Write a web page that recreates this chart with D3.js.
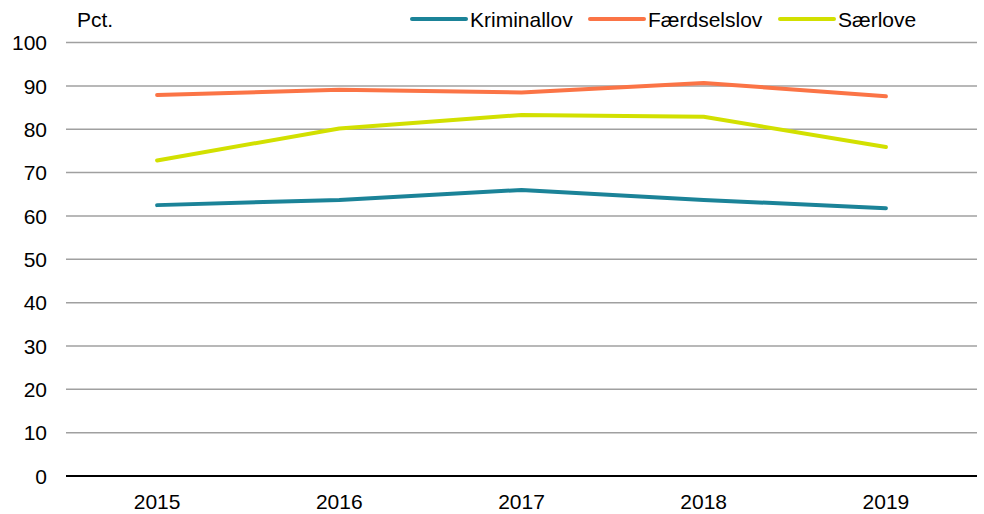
<!DOCTYPE html>
<html>
<head>
<meta charset="utf-8">
<script src="https://cdn.jsdelivr.net/npm/d3@7"></script>
<style>
    body { margin: 0; background: #fff; }
    text { font-family: "Liberation Sans", Arial, sans-serif; fill: #000; font-size: 21px; }
</style>
</head>
<body>
<svg id="chart" width="984" height="514"></svg>
<script>
const years = ["2015", "2016", "2017", "2018", "2019"];
const kriminallov = [62.5, 63.7, 66.0, 63.7, 61.8];
const faerdselslov = [87.9, 89.1, 88.5, 90.7, 87.6];
const saerlove = [72.8, 80.2, 83.3, 82.9, 75.9];
const yTicks = [0, 10, 20, 30, 40, 50, 60, 70, 80, 90, 100];

const series = [
    { name: "Kriminallov", values: kriminallov, colour: "#1b8398" },
    { name: "Færdselslov", values: faerdselslov, colour: "#fb7446" },
    { name: "Særlove", values: saerlove, colour: "#d2e000" }
];

const svg = d3.select("#chart");
const plotLeft = 66, plotRight = 977, plotTop = 42.6, plotBottom = 476;

const x = d3.scaleBand().domain(years).range([plotLeft, plotRight]);
const y = d3.scaleLinear().domain([0, 100]).range([plotBottom, plotTop]);

// gridlines
svg.append("g")
   .selectAll("line")
   .data(yTicks.filter(d => d > 0))
   .enter()
   .append("line")
   .attr("x1", plotLeft)
   .attr("x2", plotRight)
   .attr("y1", d => y(d))
   .attr("y2", d => y(d))
   .style("stroke", "#a0a0a0")
   .style("stroke-width", 1.5);

// y tick labels
svg.append("g")
   .selectAll("text")
   .data(yTicks)
   .enter()
   .append("text")
   .attr("x", 47)
   .attr("y", d => y(d))
   .attr("dy", "0.36em")
   .attr("text-anchor", "end")
   .text(d => d);

// zero axis
svg.append("line")
   .attr("x1", plotLeft)
   .attr("x2", plotRight)
   .attr("y1", y(0))
   .attr("y2", y(0))
   .style("stroke", "#000")
   .style("stroke-width", 2);

// x labels
svg.append("g")
   .selectAll("text")
   .data(years)
   .enter()
   .append("text")
   .attr("x", d => x(d) + x.bandwidth() / 2)
   .attr("y", 509)
   .attr("text-anchor", "middle")
   .text(d => d);

svg.append("text")
   .attr("x", 77)
   .attr("y", 27)
   .text("Pct.");

const line = d3.line()
               .x((d, i) => x(years[i]) + x.bandwidth() / 2)
               .y(d => y(d));

svg.append("g")
   .selectAll("path")
   .data(series)
   .enter()
   .append("path")
   .attr("d", d => line(d.values))
   .style("fill", "none")
   .style("stroke", d => d.colour)
   .style("stroke-width", 4)
   .style("stroke-linecap", "round")
   .style("stroke-linejoin", "round");

// legend
const legendX = [412, 590, 780];
const legend = svg.append("g")
                  .selectAll("g")
                  .data(series)
                  .enter()
                  .append("g")
                  .attr("transform", (d, i) => "translate(" + legendX[i] + ",19)");

legend.append("line")
      .attr("x1", 0)
      .attr("x2", 54)
      .style("stroke", d => d.colour)
      .style("stroke-width", 4)
      .style("stroke-linecap", "round");

legend.append("text")
      .attr("x", 58)
      .attr("dy", "0.36em")
      .text(d => d.name);
</script>
</body>
</html>
